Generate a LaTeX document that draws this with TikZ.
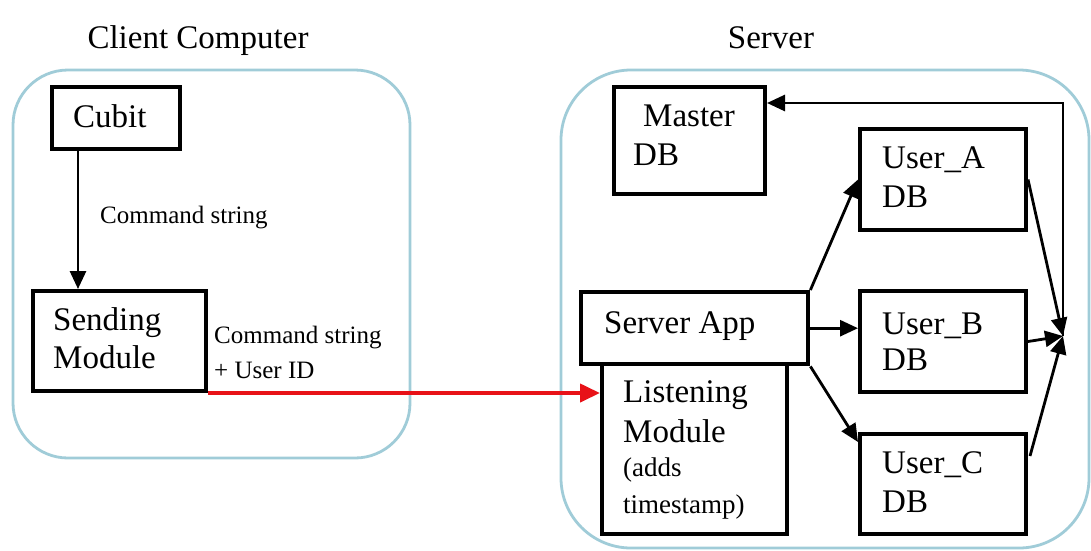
\documentclass[tikz,border=0pt]{standalone}
\usepackage{fontspec}
\setmainfont{Liberation Serif}
\usetikzlibrary{arrows.meta,calc}
\definecolor{framecol}{RGB}{160,204,216}
\definecolor{sendred}{RGB}{232,18,24}
\tikzset{
  frame/.style={draw=framecol, line width=2.8pt},
  box/.style={draw=black, line width=4pt, fill=white, rectangle, inner sep=0pt, anchor=north west},
  big/.style={font=\fontsize{33}{38}\selectfont, inner sep=0pt, anchor=base west},
  mid/.style={font=\fontsize{27}{31}\selectfont, inner sep=0pt, anchor=base west},
  small/.style={font=\fontsize{25}{29}\selectfont, inner sep=0pt, anchor=base west},
  conn/.style={draw=black, line width=2.8pt, -{Triangle[length=18pt,width=16pt]}},
  redconn/.style={draw=sendred, line width=4pt, -{Triangle[length=20pt,width=18pt]}},
}
\begin{document}
\begin{tikzpicture}[x=1pt,y=-1pt]
\useasboundingbox (0,0) rectangle (1091,550);
\fill[white] (0,0) rectangle (1091,550);

% containers
\draw[frame, rounded corners=55pt] (13,70) rectangle (410,458);
\draw[frame, rounded corners=70pt] (561,70) rectangle (1089,548);
\node[font=\fontsize{33}{38}\selectfont, inner sep=0pt, anchor=base] (tclient) at (198,48) {Client Computer};
\node[font=\fontsize{33}{38}\selectfont, inner sep=0pt, anchor=base] (tserver) at (771,48) {Server};

% client side
\node[box, minimum width=128, minimum height=62] (cubit) at (50,85) {};
\node[big] (tcubit) at (73,127) {Cubit};
\node[box, minimum width=173, minimum height=100] (sending) at (31,289) {};
\node[big] (tsend1) at (53,330) {Sending};
\node[big] (tsend2) at (53,368) {Module};
\node[small] (lcmd) at (100,223) {Command string};
\node[small] (lcmd2) at (214,343) {Command string};
\node[small] (luid) at (214,378) {+ User ID};

% server side
\node[box, minimum width=151, minimum height=107] (master) at (612,85) {};
\node[big] (tmaster1) at (643,126) {Master};
\node[big] (tmaster2) at (633,165) {DB};

\node[box, minimum width=185, minimum height=170] (listening) at (600,362) {};
\node[big] (tlist1) at (623,402) {Listening};
\node[big] (tlist2) at (623,442) {Module};
\node[mid] (tlist3) at (623,476) {(adds};
\node[mid] (tlist4) at (623,513) {timestamp)};
\node[box, line width=4.4pt, minimum width=227, minimum height=72] (app) at (579,290) {};
\node[big] (tapp) at (604,333) {Server App};

\node[box, minimum width=166, minimum height=101] (usera) at (858,127) {};
\node[big] (tua1) at (882,168) {User\_A};
\node[big] (tua2) at (882,207) {DB};
\node[box, minimum width=166, minimum height=101] (userb) at (858,289) {};
\node[big] (tub1) at (882,334) {User\_B};
\node[big] (tub2) at (882,370) {DB};
\node[box, minimum width=166, minimum height=100] (userc) at (858,432) {};
\node[big] (tuc1) at (882,473) {User\_C};
\node[big] (tuc2) at (882,512) {DB};

% routing points
\coordinate (cx) at (78,0);
\coordinate (merge) at (1063,336);
\coordinate (topturn) at (1063,103);
\coordinate (cin) at ($(userc.north west)+(0,10)$);
\coordinate (cout) at ($(userc.north east)+(2,24)$);

% connectors
\draw[conn] (cubit.south -| cx) -- (sending.north -| cx);
\draw[redconn] (sending.south east) -- (sending.south east -| listening.west);
\draw[conn] (app.north east) -- (usera.west);
\draw[conn] (app.east) -- (app.east -| userb.west);
\draw[conn] (app.south east) -- (cin);
\draw[conn] (usera.east) -- (merge);
\draw[conn] (userb.east) -- (merge);
\draw[conn] (cout) -- (merge);
\draw[conn] (merge) -- (topturn) -- (topturn -| master.east);
\end{tikzpicture}
\end{document}
